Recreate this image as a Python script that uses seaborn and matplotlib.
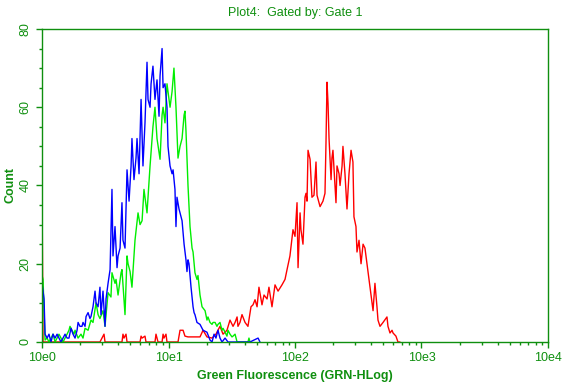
import matplotlib
matplotlib.use("Agg")
import matplotlib.pyplot as plt
from matplotlib.ticker import FixedLocator, NullFormatter
import numpy as np
import pandas as pd
import seaborn as sns

# histogram channels as log10(fluorescence) and counts per channel
blue_log = [0.000, 0.008, 0.016, 0.024, 0.040, 0.055, 0.071, 0.087, 0.103, 0.119,
            0.134, 0.150, 0.166, 0.182, 0.198, 0.213, 0.229, 0.245, 0.261, 0.277,
            0.285, 0.300, 0.316, 0.324, 0.340, 0.348, 0.364, 0.379, 0.387, 0.403,
            0.419, 0.427, 0.443, 0.458, 0.466, 0.482, 0.498, 0.506, 0.522, 0.538,
            0.553, 0.561, 0.577, 0.593, 0.601, 0.617, 0.632, 0.640, 0.656, 0.672,
            0.688, 0.704, 0.711, 0.727, 0.743, 0.751, 0.767, 0.783, 0.798, 0.814,
            0.830, 0.838, 0.854, 0.862, 0.877, 0.893, 0.909, 0.925, 0.933, 0.949,
            0.957, 0.972, 0.988, 0.996, 1.012, 1.028, 1.036, 1.051, 1.059, 1.067,
            1.083, 1.091, 1.107, 1.123, 1.138, 1.146, 1.154, 1.162, 1.178, 1.194,
            1.202, 1.209, 1.225, 1.249, 1.273, 1.304, 1.328, 1.344, 1.360, 1.375,
            1.391, 1.407, 1.423, 1.447, 1.470, 1.644, 1.708, 1.723]
blue_count = [15, 13, 11, 2, 1, 2, 0, 2, 1, 2,
              1, 0, 1, 2, 1, 1, 3.5, 2, 1, 3,
              5, 4, 4, 5, 4, 6.5, 7.5, 6, 6.5, 9,
              13, 10, 9, 14, 7, 13, 4, 11, 15, 18.5,
              39, 22, 29.5, 19, 22, 24, 35.6, 26, 24, 44,
              36, 45, 52, 41.5, 47, 52, 43, 62, 45, 56,
              71.5, 62, 60, 66, 70.5, 62, 67, 57.7, 68, 75,
              65, 66, 60, 50, 45, 43, 44, 39, 29.5, 37,
              34, 33, 31, 25, 21, 18, 21, 20, 14, 9,
              7.5, 7, 5, 4.5, 3, 2.5, 0.5, 0, 2, 1,
              3, 1, 0, 1, 0, 0, 1, 0]

green_log = [0.000, 0.008, 0.016, 0.024, 0.040, 0.055, 0.071, 0.087, 0.103, 0.119,
             0.134, 0.150, 0.166, 0.182, 0.198, 0.213, 0.221, 0.237, 0.253, 0.261,
             0.285, 0.308, 0.324, 0.340, 0.364, 0.387, 0.403, 0.427, 0.443, 0.458,
             0.482, 0.498, 0.522, 0.545, 0.553, 0.577, 0.585, 0.601, 0.625, 0.632,
             0.656, 0.672, 0.680, 0.696, 0.711, 0.735, 0.759, 0.775, 0.791, 0.806,
             0.830, 0.854, 0.877, 0.893, 0.909, 0.933, 0.949, 0.957, 0.972, 0.988,
             1.012, 1.028, 1.043, 1.059, 1.075, 1.091, 1.107, 1.123, 1.130, 1.138,
             1.146, 1.154, 1.170, 1.186, 1.194, 1.209, 1.225, 1.233, 1.249, 1.265,
             1.289, 1.304, 1.312, 1.328, 1.344, 1.352, 1.368, 1.383, 1.391, 1.407,
             1.423, 1.431, 1.447, 1.462, 1.470, 1.486, 1.502, 1.510, 1.526, 1.542,
             1.628, 1.636, 1.644]
green_count = [17, 16, 8, 0.5, 1, 0, 1, 2, 0, 1,
               2, 1, 0, 1, 2, 3, 4, 3, 2, 3,
               1, 2, 1, 3.5, 3, 5.6, 5, 10, 7, 6,
               8, 4, 12.6, 11.5, 17.7, 15, 16, 12, 17.7, 18.5,
               7, 22, 20, 18, 14, 26, 33, 30, 31, 39,
               33, 45, 55, 60, 52, 46.7, 58, 60, 56, 66,
               60, 64, 70, 60, 47, 50, 52, 58, 59, 54,
               47, 40, 29.5, 24, 23, 17.7, 16, 17, 12, 9,
               8, 5.6, 6.4, 5, 4.5, 5, 5, 4, 4.5, 5,
               3, 3.5, 2.5, 1.5, 3, 2, 1.3, 1.5, 2, 0,
               0, 1, 0]

red_log = [0.000, 0.008, 0.458, 0.490, 0.498, 0.632, 0.640, 0.648, 0.664, 0.672,
           0.775, 0.783, 0.791, 0.814, 0.822, 0.893, 0.901, 0.909, 0.917, 0.949,
           0.957, 0.964, 0.980, 0.988, 1.075, 1.091, 1.115, 1.130, 1.154, 1.209,
           1.249, 1.273, 1.304, 1.344, 1.375, 1.407, 1.431, 1.462, 1.486, 1.510,
           1.526, 1.542, 1.549, 1.565, 1.581, 1.605, 1.628, 1.652, 1.668, 1.684,
           1.700, 1.715, 1.739, 1.755, 1.779, 1.794, 1.818, 1.842, 1.866, 1.897,
           1.921, 1.937, 1.960, 1.984, 2.000, 2.016, 2.024, 2.040, 2.047, 2.063,
           2.079, 2.087, 2.095, 2.103, 2.119, 2.134, 2.150, 2.166, 2.174, 2.198,
           2.221, 2.237, 2.245, 2.253, 2.261, 2.269, 2.285, 2.292, 2.300, 2.316,
           2.324, 2.332, 2.348, 2.356, 2.372, 2.379, 2.395, 2.411, 2.427, 2.443,
           2.458, 2.466, 2.482, 2.490, 2.506, 2.522, 2.538, 2.553, 2.569, 2.585,
           2.609, 2.617, 2.632, 2.648, 2.656, 2.672, 2.696, 2.727, 2.735, 2.751,
           2.767, 2.775, 2.798, 2.814, 2.830]
red_count = [39, 0, 0, 2, 0, 0, 2, 1, 2, 0,
             0, 1.5, 1, 1.5, 0, 0, 2, 1, 0, 0,
             2, 1, 2, 0, 0, 3, 3, 1.5, 1.3, 1.3,
             1.3, 3, 1.3, 1, 2, 4, 2, 3, 5.6, 4,
             5, 6.4, 4, 5, 7, 5, 4, 9, 9.5, 10.8,
             9, 14, 9.5, 12, 11, 14, 9, 14.6, 13, 14.6,
             16, 18.5, 22, 28.7, 27, 35.6, 19, 33, 28.7, 25,
             37, 38, 36, 49, 46.7, 37, 37.5, 46, 37.5, 34.6,
             36, 38, 51, 66.4, 61, 52, 41.5, 47, 49, 40,
             35.6, 45, 43, 40, 45, 50, 43, 34, 43, 49,
             46, 32, 29.5, 23, 26, 20, 25, 24, 20, 16,
             10, 8, 15, 9, 5.6, 4, 5, 6.4, 4, 2.3,
             3, 2.3, 1.5, 0, 0]

x_ticks = [1, 10, 100, 1000, 10000]
x_tick_labels = ["10e0", "10e1", "10e2", "10e3", "10e4"]
y_ticks = [0, 20, 40, 60, 80]

GREEN = "#0f8f0f"

sns.set_theme(style="white")
plt.rcParams["font.family"] = ["Liberation Sans", "DejaVu Sans"]
plt.rcParams["axes.linewidth"] = 1.0

fig = plt.figure(figsize=(5.71, 3.84), dpi=100)
ax = fig.add_axes([0.0736, 0.1094, 0.8861, 0.8151])

series = [
    ("red", red_log, red_count, "#ff0000"),
    ("green", green_log, green_count, "#00ee00"),
    ("blue", blue_log, blue_count, "#0000ff"),
]
for name, lg, cnt, col in series:
    df = pd.DataFrame({"fl": np.power(10.0, lg), "count": cnt})
    sns.lineplot(data=df, x="fl", y="count", ax=ax, color=col, lw=1.0,
                 estimator=None, sort=False, legend=False)

ax.set_xscale("log")
ax.set_xlim(1, 10000)
ax.set_ylim(0, 80)

ax.xaxis.set_major_locator(FixedLocator(x_ticks))
ax.set_xticklabels(x_tick_labels)
minor = [m * 10 ** e for e in range(4) for m in range(2, 10)]
ax.xaxis.set_minor_locator(FixedLocator(minor))
ax.xaxis.set_minor_formatter(NullFormatter())
ax.set_yticks(y_ticks)
ax.set_yticks(np.arange(0, 81, 5), minor=True)

for s in ax.spines.values():
    s.set_color(GREEN)
    s.set_visible(True)
ax.tick_params(axis="both", which="major", direction="out", length=4, width=1,
               color=GREEN, labelcolor=GREEN, labelsize=9)
ax.tick_params(axis="both", which="minor", direction="out", length=2.5, width=1,
               color=GREEN)
ax.tick_params(axis="x", which="both", bottom=True)
ax.tick_params(axis="y", which="both", left=True)
for lbl in ax.get_yticklabels():
    lbl.set_rotation(90)
    lbl.set_va("center")

ax.set_xlabel("Green Fluorescence (GRN-HLog)", color=GREEN, fontsize=9,
              fontweight="bold", labelpad=4)
ax.set_ylabel("Count", color=GREEN, fontsize=9, fontweight="bold", labelpad=2)
ax.set_title("Plot4:  Gated by: Gate 1", color=GREEN, fontsize=9, pad=9)

fig.savefig("out.png", dpi=100, facecolor="white")
